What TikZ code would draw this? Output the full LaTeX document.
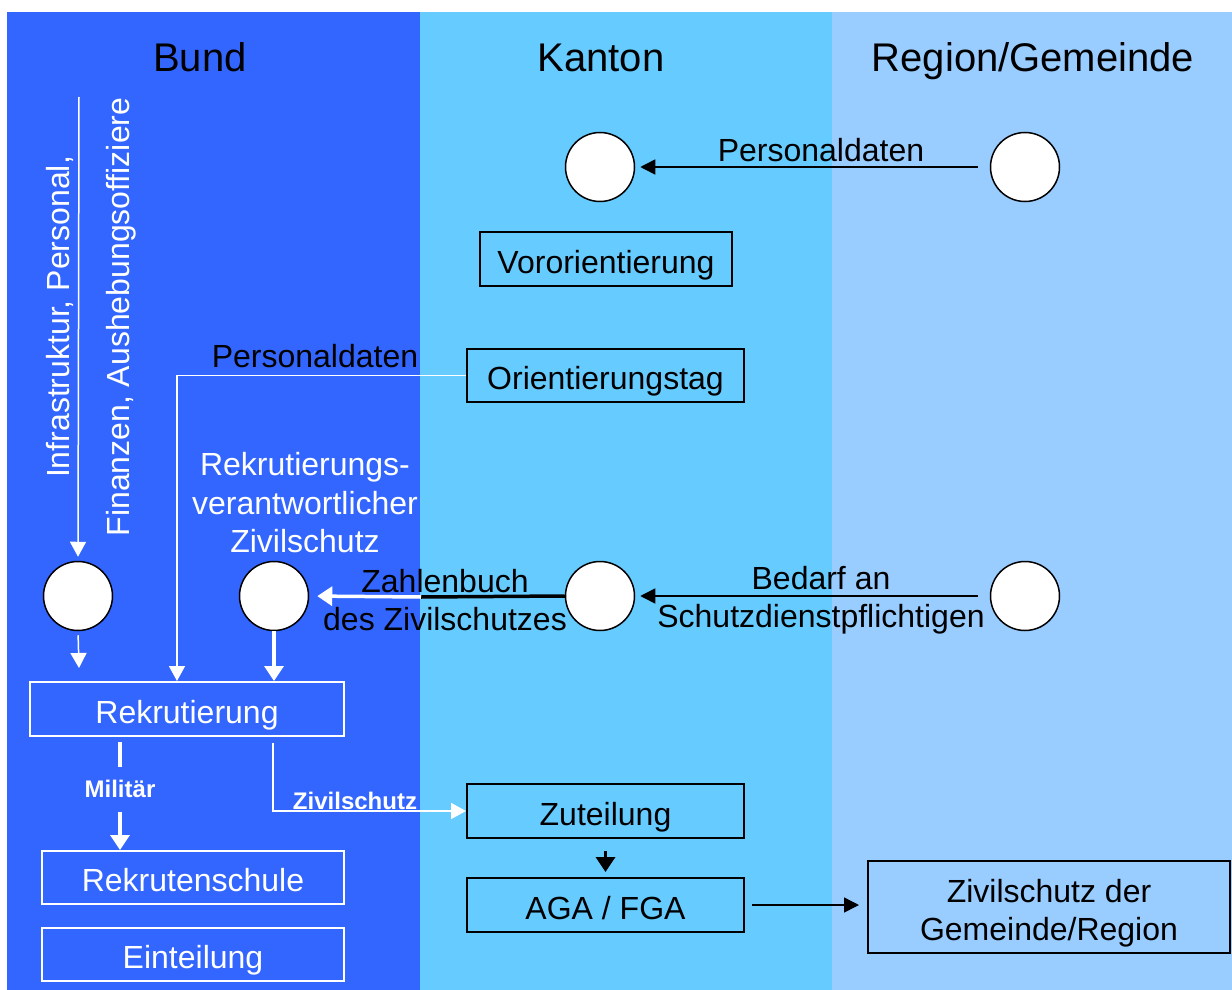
\documentclass[tikz,border=0pt]{standalone}
\usepackage{fontspec}
\setmainfont{Liberation Sans}
\usetikzlibrary{arrows.meta}
\definecolor{bundc}{RGB}{51,102,255}
\definecolor{kantonc}{RGB}{102,204,255}
\definecolor{regionc}{RGB}{153,204,255}
\tikzset{
  txt/.style={font=\fontsize{32}{38.5}\selectfont, inner sep=0pt, align=center},
  onel/.style={text height=28pt, text depth=0pt},
  head/.style={font=\fontsize{40}{46}\selectfont, inner sep=0pt, text height=28pt, text depth=0pt},
  small/.style={font=\fontsize{24}{28}\bfseries\selectfont, text=white, inner sep=0pt},
  circ/.style={circle, draw=black, fill=white, line width=1.5pt, minimum size=69pt, inner sep=0pt},
  bbox/.style={draw=black, line width=2pt, txt},
  wbox/.style={draw=white, line width=2pt, txt, text=white},
  barrow/.style={draw=black, line width=1.5pt, -{Triangle[length=15pt,width=15pt]}},
  bthick/.style={draw=black, line width=3.5pt, -{Triangle[length=15pt,width=19pt]}},
  warrow/.style={draw=white, line width=1.5pt, -{Triangle[length=15pt,width=16pt]}},
  wthick/.style={draw=white, line width=3.5pt, -{Triangle[length=15pt,width=19pt]}},
}
\begin{document}
\begin{tikzpicture}[x=1pt,y=-1pt]
\useasboundingbox (0,0) rectangle (1232,990);
\fill[white] (0,0) rectangle (1232,990);
\fill[bundc] (7,12) rectangle (420,990);
\fill[kantonc] (420,12) rectangle (832,990);
\fill[regionc] (832,12) rectangle (1232,990);

% headers
\node[head] (hb) at (200,57) {Bund};
\node[head] (hk) at (601,57) {Kanton};
\node[head] (hr) at (1033,57) {Region/Gemeinde};

% circles
\node[circ] (kc1) at (600,167) {};
\node[circ] (rc1) at (1025,167) {};
\node[circ] (c1) at (78,596) {};
\node[circ] (c2) at (274,596) {};
\node[circ] (kc2) at (600,596) {};
\node[circ] (rc2) at (1025,596) {};

% boxes
\node[bbox, onel, minimum width=252pt, minimum height=54pt] (vor) at (606,259) {Vororientierung};
\node[bbox, onel, minimum width=277pt, minimum height=53pt] (ori) at (605.5,375.5) {Orientierungstag};
\node[wbox, onel, minimum width=314pt, minimum height=54pt] (rek) at (187,709) {Rekrutierung};
\node[wbox, onel, minimum width=302pt, minimum height=53pt] (rs) at (193,877.5) {Rekrutenschule};
\node[wbox, onel, minimum width=302pt, minimum height=53pt] (ein) at (193,954.5) {Einteilung};
\node[bbox, onel, minimum width=277pt, minimum height=54pt] (zut) at (605.5,811) {Zuteilung};
\node[bbox, onel, minimum width=277pt, minimum height=54pt] (aga) at (605.5,905) {AGA / FGA};
\node[draw=black, line width=2pt, minimum width=362pt, minimum height=92pt, inner sep=0pt] (zdg) at (1049,907) {};
\node[txt] (zdgt) at (1049,913) {Zivilschutz der\\Gemeinde/Region};

% labels
\node[txt] (lp1) at (821,150) {Personaldaten};
\node[txt] (lp2) at (315,356) {Personaldaten};
\node[txt, text=white] (lrv) at (305,503) {Rekrutierungs-\\verantwortlicher\\Zivilschutz};
\node[txt] (lzb) at (445,600) {Zahlenbuch\\des Zivilschutzes};
\node[txt] (lbd) at (821,600) {Bedarf an\\Schutzdienstpflichtigen};
\node[font=\fontsize{32}{60}\selectfont, text=white, align=center, inner sep=0pt, rotate=90] (vt) at (91,317) {Infrastruktur, Personal,\\Finanzen, Aushebungsoffiziere};
\node[small] (lmil) at (120,789) {Militär};
\node[small] (lzs) at (355,801) {Zivilschutz};

% connectors
\draw[barrow, shorten <=12pt, shorten >=5pt] (rc1.west) -- (kc1.east);
\draw[barrow, shorten <=12pt, shorten >=5pt] (rc2.west) -- (kc2.east);
\coordinate (zb) at (421,597);
\draw[draw=black, line width=3.5pt] (kc2.west) -- (zb);
\draw[wthick, shorten >=8pt] (zb) -- (c2.east);

\coordinate (vtop) at (79,97);
\draw[warrow, shorten >=4pt] (vtop) -- (c1.north);
\coordinate (c1end) at (79,668);
\draw[warrow, shorten <=4pt] (c1.south) -- (c1end);

\draw[warrow] (ori.west) -| ([xshift=-10pt]rek.north);
\draw[wthick] (c2.south) -- (c2.south |- rek.north);

\coordinate (m0) at (120,742);
\coordinate (m1) at (120,767);
\coordinate (m2) at (120,812);
\draw[draw=white, line width=3.5pt] (m0) -- (m1);
\draw[wthick] (m2) -- (m2 |- rs.north);

\coordinate (z0) at (273,743);
\draw[warrow] (z0) |- (zut.west);

\draw[bthick, shorten <=12pt, shorten >=5pt] (zut.south) -- (aga.north);
\draw[barrow, shorten <=7pt, shorten >=8pt] (aga.east) -- (aga.east -| zdg.west);
\end{tikzpicture}
\end{document}
